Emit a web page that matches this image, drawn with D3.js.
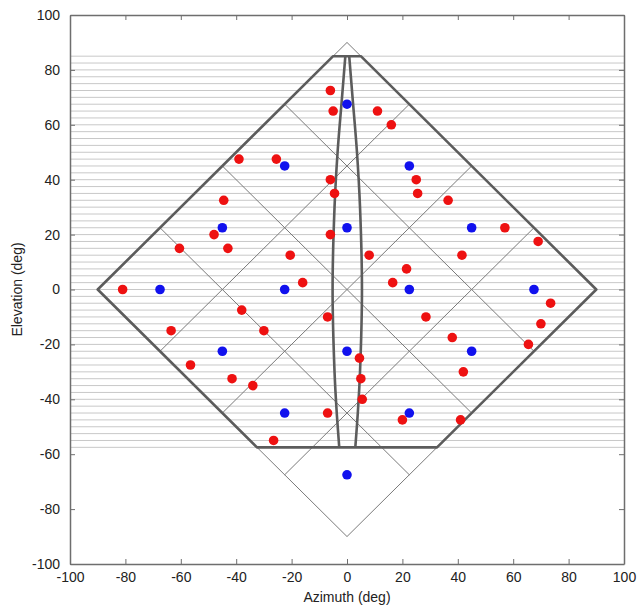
<!DOCTYPE html>
<html>
<head>
<meta charset="utf-8">
<script src="https://cdn.jsdelivr.net/npm/d3@7"></script>
<style>
  body { margin: 0; background: #fff; }
  text { font-family: "Liberation Sans", Arial, sans-serif; fill: #222; }
</style>
</head>
<body>
<svg id="chart"></svg>
<script>
var width = 638;
var height = 609;

// tick labels
var xTicks = [-100, -80, -60, -40, -20, 0, 20, 40, 60, 80, 100];
var yTicks = [-100, -80, -60, -40, -20, 0, 20, 40, 60, 80, 100];

// elevation sampling lines (deg)
var elevLines = d3.range(85, -57.6, -2.5);

// coverage limits
var elTop = 85;
var elBottom = -57.5;
var gridUV = [-45, 0, 45];

// central lens (half width in azimuth at given elevation)
var lensEl = [85, 70, 50, 30, 0, -30, -45, -57.5];
var lensHalf = [0.6, 1.8, 3.4, 4.5, 5.2, 4.5, 3.7, 2.8];

// points [azimuth, elevation]
var bluePoints = [
  [0, 67.5], [-22.5, 45], [22.5, 45], [-45, 22.5], [0, 22.5], [45, 22.5],
  [-67.5, 0], [-22.5, 0], [22.5, 0], [67.5, 0], [-45, -22.5], [0, -22.5],
  [45, -22.5], [-22.5, -45], [22.5, -45], [0, -67.5]
];
var redPoints = [
  [-6, 72.5], [-5, 65], [11, 65], [16, 60], [-39, 47.5], [-25.5, 47.5],
  [-6, 40], [25, 40], [-4.5, 35], [25.5, 35], [-44.5, 32.5], [36.5, 32.5],
  [-48, 20], [-6, 20], [-60.5, 15], [-43, 15], [57, 22.5], [69, 17.5],
  [-20.5, 12.5], [8, 12.5], [41.5, 12.5], [21.5, 7.5], [-16, 2.5], [16.5, 2.5],
  [-81, 0], [73.5, -5], [-38, -7.5], [-7, -10], [28.5, -10], [70, -12.5],
  [-63.5, -15], [-30, -15], [38, -17.5], [65.5, -20], [4.5, -25], [-56.5, -27.5],
  [-41.5, -32.5], [5, -32.5], [42, -30], [-34, -35], [5.5, -40], [-7, -45],
  [41, -47.5], [20, -47.5], [-26.5, -55]
];

var margin = {left: 70, right: 14, top: 15, bottom: 45};

var svg = d3.select("#chart")
  .attr("width", width)
  .attr("height", height);

var x = d3.scaleLinear().domain([-100, 100]).range([margin.left, width - margin.right]);
var y = d3.scaleLinear().domain([-100, 100]).range([height - margin.bottom, margin.top]);

var line = d3.line().x(function(d) { return x(d[0]); }).y(function(d) { return y(d[1]); });
var plain = function(d) { return String(d); };

// horizontal elevation lines
svg.append("g").selectAll("line")
  .data(elevLines)
  .enter().append("line")
  .attr("x1", x(-100)).attr("x2", x(100))
  .attr("y1", function(d) { return y(d); })
  .attr("y2", function(d) { return y(d); })
  .attr("stroke", "#c8c8c8")
  .attr("stroke-width", 1);

// thin diamond grid, u = az + el, v = el - az
var thin = svg.append("g")
  .attr("fill", "none")
  .attr("stroke", "#7a7a7a")
  .attr("stroke-width", 1);

thin.append("path")
  .attr("d", line([[-90, 0], [0, 90], [90, 0], [0, -90], [-90, 0]]));

gridUV.forEach(function(c) {
  // u = c
  thin.append("path").attr("d", line([[(c + 90) / 2, (c - 90) / 2], [(c - 90) / 2, (c + 90) / 2]]));
  // v = c
  thin.append("path").attr("d", line([[(90 - c) / 2, (90 + c) / 2], [(-90 - c) / 2, (c - 90) / 2]]));
});

// thick coverage boundary
var thick = svg.append("g")
  .attr("fill", "none")
  .attr("stroke", "#5c5c5c")
  .attr("stroke-width", 2.6)
  .attr("stroke-linejoin", "round");

thick.append("path")
  .attr("d", line([
    [-(90 + elBottom), elBottom], [-90, 0], [-(90 - elTop), elTop],
    [90 - elTop, elTop], [90, 0], [90 + elBottom, elBottom]
  ]) + "Z");

var lens = d3.line()
  .x(function(d) { return x(d[0]); })
  .y(function(d) { return y(d[1]); })
  .curve(d3.curveCatmullRom);

thick.append("path")
  .attr("d", lens(lensEl.map(function(e, i) { return [-lensHalf[i], e]; })));
thick.append("path")
  .attr("d", lens(lensEl.map(function(e, i) { return [lensHalf[i] + 0.2, e]; })));

// points
svg.append("g").selectAll("circle")
  .data(redPoints)
  .enter().append("circle")
  .attr("cx", function(d) { return x(d[0]); })
  .attr("cy", function(d) { return y(d[1]); })
  .attr("r", 4.8)
  .attr("fill", "#ee1111");

svg.append("g").selectAll("circle")
  .data(bluePoints)
  .enter().append("circle")
  .attr("cx", function(d) { return x(d[0]); })
  .attr("cy", function(d) { return y(d[1]); })
  .attr("r", 4.8)
  .attr("fill", "#1111ee");

// axes box with inside ticks
var axisColor = "#6e6e6e";
var tickLen = 5;

svg.append("g")
  .attr("transform", "translate(0," + y(-100) + ")")
  .call(d3.axisBottom(x).tickValues(xTicks).tickSizeInner(-tickLen).tickSizeOuter(0).tickPadding(10).tickFormat(plain))
  .call(function(g) {
    g.select(".domain").attr("stroke", axisColor).attr("stroke-width", 1.5);
    g.selectAll(".tick line").attr("stroke", axisColor);
    g.selectAll("text").attr("font-size", 14).attr("fill", "#222").attr("dy", "0.6em");
  });

svg.append("g")
  .attr("transform", "translate(0," + y(100) + ")")
  .call(d3.axisTop(x).tickValues(xTicks).tickSizeInner(-tickLen).tickSizeOuter(0).tickFormat(""))
  .call(function(g) {
    g.select(".domain").attr("stroke", axisColor).attr("stroke-width", 1.5);
    g.selectAll(".tick line").attr("stroke", axisColor);
  });

svg.append("g")
  .attr("transform", "translate(" + x(-100) + ",0)")
  .call(d3.axisLeft(y).tickValues(yTicks).tickSizeInner(-tickLen).tickSizeOuter(0).tickPadding(10).tickFormat(plain))
  .call(function(g) {
    g.select(".domain").attr("stroke", axisColor).attr("stroke-width", 1.5);
    g.selectAll(".tick line").attr("stroke", axisColor);
    g.selectAll("text").attr("font-size", 14).attr("fill", "#222");
  });

svg.append("g")
  .attr("transform", "translate(" + x(100) + ",0)")
  .call(d3.axisRight(y).tickValues(yTicks).tickSizeInner(-tickLen).tickSizeOuter(0).tickFormat(""))
  .call(function(g) {
    g.select(".domain").attr("stroke", axisColor).attr("stroke-width", 1.5);
    g.selectAll(".tick line").attr("stroke", axisColor);
  });

// axis titles
svg.append("text")
  .attr("x", x(0))
  .attr("y", height - 7)
  .attr("text-anchor", "middle")
  .attr("font-size", 14)
  .text("Azimuth (deg)");

svg.append("text")
  .attr("transform", "translate(22," + y(0) + ") rotate(-90)")
  .attr("text-anchor", "middle")
  .attr("font-size", 14)
  .text("Elevation (deg)");
</script>
</body>
</html>
